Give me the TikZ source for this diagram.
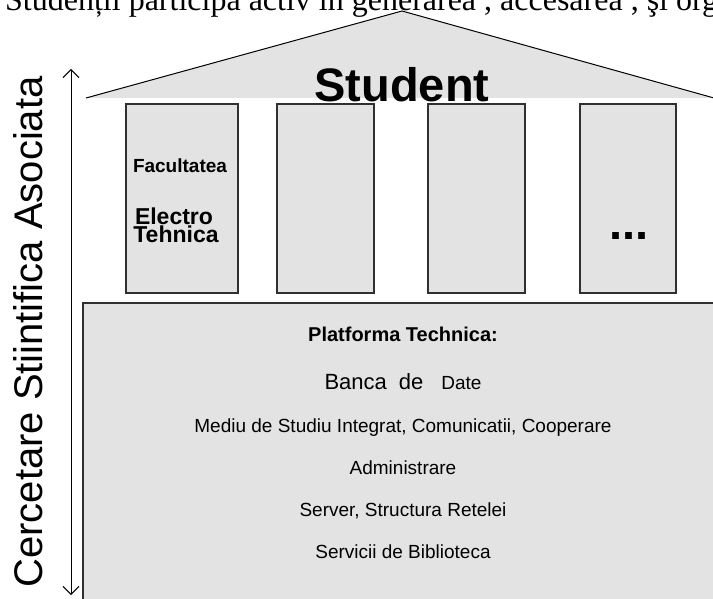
\documentclass[tikz,border=0pt]{standalone}
\usepackage{fontspec}
\setmainfont{Liberation Sans}
\newfontfamily\serifrm{Liberation Serif}
\usetikzlibrary{arrows.meta}
\definecolor{fillgray}{HTML}{E3E3E3}
\definecolor{edgegray}{HTML}{303030}
\begin{document}
\begin{tikzpicture}[x=1pt,y=-1pt,
  roofline/.style={draw=black,line width=1pt},
  pillar/.style={fill=fillgray,draw=edgegray,line width=1.3pt},
  txt/.style={inner sep=0pt,anchor=base,text=black},
  >={Straight Barb[length=8pt,width=16pt]},
]
\useasboundingbox (0,0) rectangle (713,599);
\clip (0,0) rectangle (713,599);
% intro line (cut at top)
\node[txt,anchor=base west,font=\serifrm\fontsize{32}{36}\selectfont] (intro) at (5,11)
  {Studenții participă activ în generarea , accesarea , şi org};
% roof
\coordinate (rl) at (86,98);
\coordinate (rt) at (402,11);
\coordinate (rr) at (714,98);
\fill[fillgray] (rl) -- (rt) -- (rr) -- cycle;
\draw[roofline] (rl) -- (rt) -- (rr);
% columns
\draw[pillar] (126,104) rectangle (238,293);
\draw[pillar] (277,104) rectangle (374,293);
\draw[pillar] (428,104) rectangle (525,293);
\draw[pillar] (580,104) rectangle (676,293);
% platform
\draw[pillar] (83,303) rectangle (718,604);
% roof title
\node[txt,font=\bfseries\fontsize{47}{50}\selectfont] (student) at (402,102) {Student};
% column texts
\node[txt,font=\bfseries\fontsize{19}{21}\selectfont] (fac) at (180,173) {Facultatea};
\node[txt,font=\bfseries\fontsize{23}{25}\selectfont] (el) at (174,225) {Electro};
\node[txt,font=\bfseries\fontsize{23}{25}\selectfont] (teh) at (176,243) {Tehnica};
\node[txt,font=\bfseries\fontsize{47}{50}\selectfont] (dots) at (629,240) {...};
% platform texts
\node[txt,font=\bfseries\fontsize{20}{22}\selectfont] (pt) at (403,341) {Platforma Technica:};
\node[txt] (bd) at (403,389) {{\fontsize{22}{24}\selectfont Banca\hspace{12pt}de}\hspace{18pt}{\fontsize{19}{21}\selectfont Date}};
\node[txt,font=\fontsize{19}{21}\selectfont] (med) at (403,432) {Mediu de Studiu Integrat, Comunicatii, Cooperare};
\node[txt,font=\fontsize{19}{21}\selectfont] (adm) at (403,474) {Administrare};
\node[txt,font=\fontsize{19}{21}\selectfont] (srv) at (403,516) {Server, Structura Retelei};
\node[txt,font=\fontsize{19}{21}\selectfont] (bib) at (403,558) {Servicii de Biblioteca};
% side arrow and label
\coordinate (atop) at (71,69);
\coordinate (abot) at (71,595);
\draw[line width=0.9pt,<->] (abot) -- (atop);
\node[txt,rotate=90,font=\fontsize{40}{44}\selectfont] (side) at (42,332) {Cercetare Stiintifica Asociata};
\end{tikzpicture}
\end{document}
